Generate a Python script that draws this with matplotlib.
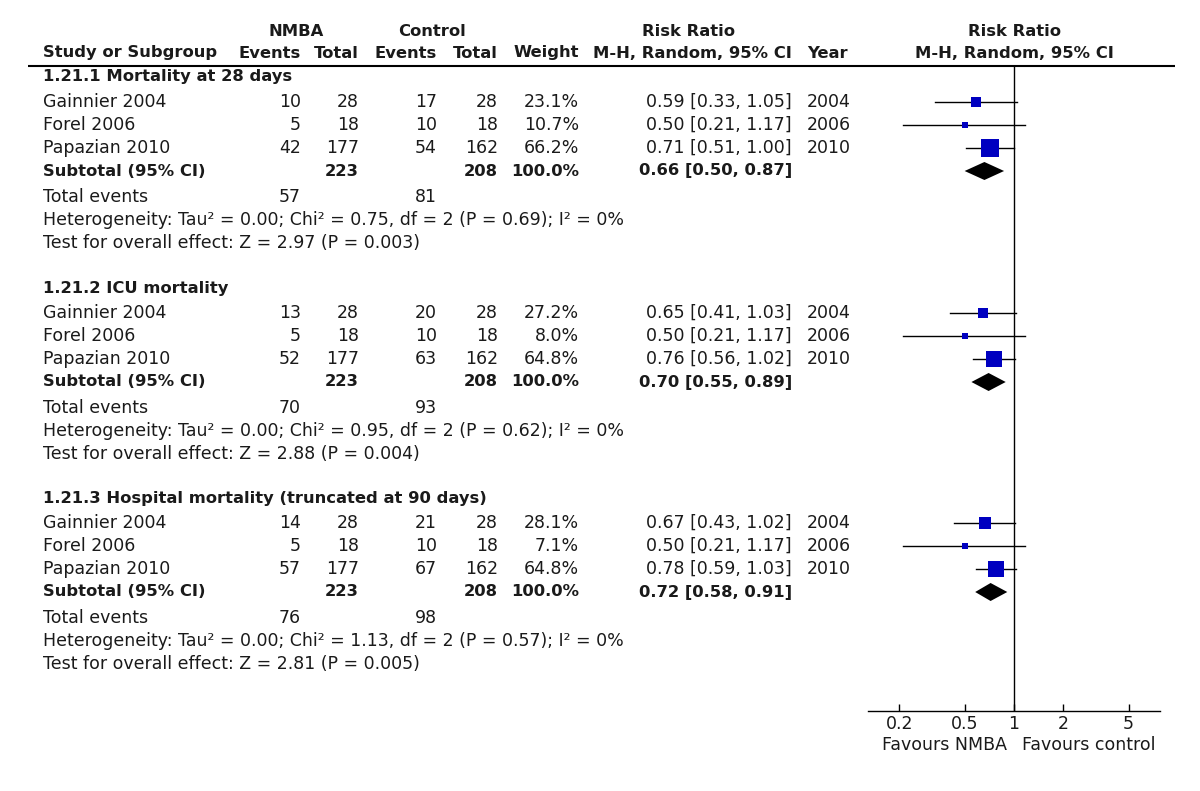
import numpy as np
import matplotlib.pyplot as plt
from matplotlib.patches import Polygon

# data
subgroups = ['1.21.1 Mortality at 28 days', '1.21.2 ICU mortality',
             '1.21.3 Hospital mortality (truncated at 90 days)']
studies = ['Gainnier 2004', 'Forel 2006', 'Papazian 2010']
years = [2004, 2006, 2010]

nmba_events = [[10, 5, 42], [13, 5, 52], [14, 5, 57]]
nmba_total = [[28, 18, 177], [28, 18, 177], [28, 18, 177]]
ctrl_events = [[17, 10, 54], [20, 10, 63], [21, 10, 67]]
ctrl_total = [[28, 18, 162], [28, 18, 162], [28, 18, 162]]
weights = [[23.1, 10.7, 66.2], [27.2, 8.0, 64.8], [28.1, 7.1, 64.8]]
rr = [[0.59, 0.50, 0.71], [0.65, 0.50, 0.76], [0.67, 0.50, 0.78]]
rr_lo = [[0.33, 0.21, 0.51], [0.41, 0.21, 0.56], [0.43, 0.21, 0.59]]
rr_hi = [[1.05, 1.17, 1.00], [1.03, 1.17, 1.02], [1.02, 1.17, 1.03]]

sub_rr = [0.66, 0.70, 0.72]
sub_lo = [0.50, 0.55, 0.58]
sub_hi = [0.87, 0.89, 0.91]
sub_nmba_total = [223, 223, 223]
sub_ctrl_total = [208, 208, 208]
sub_nmba_events = [57, 70, 76]
sub_ctrl_events = [81, 93, 98]
tau2 = [0.00, 0.00, 0.00]
chi2 = [0.75, 0.95, 1.13]
df = [2, 2, 2]
p_het = [0.69, 0.62, 0.57]
i2 = [0, 0, 0]
z = [2.97, 2.88, 2.81]
p_z = [0.003, 0.004, 0.005]

ticks = [0.2, 0.5, 1, 2, 5]
tick_labels = ['0.2', '0.5', '1', '2', '5']

# layout (pixels)
W, H = 1200, 791
FS = 12.5
FSB = 11.8
TXT = '#1a1a1a'
BLUE = '#0000c0'

fig = plt.figure(figsize=(W / 100, H / 100), dpi=100)
ax = fig.add_axes([0, 0, 1, 1])
ax.set_xlim(0, W)
ax.set_ylim(H, 0)
ax.axis('off')


def t(x, y, s, ha='left', bold=False):
    ax.text(x, y, s, ha=ha, va='center', fontsize=FSB if bold else FS,
            color=TXT, fontweight='bold' if bold else 'normal')


x_name = 43
x_ne, x_nt, x_ce, x_ct, x_w, x_ci, x_yr = 301, 359, 437, 498, 579, 792, 807

# header
t(296, 31, 'NMBA', 'center', True)
t(432, 31, 'Control', 'center', True)
t(688, 31, 'Risk Ratio', 'center', True)
t(1014, 31, 'Risk Ratio', 'center', True)
t(x_name, 53, 'Study or Subgroup', bold=True)
t(x_ne, 53, 'Events', 'right', True)
t(x_nt, 53, 'Total', 'right', True)
t(x_ce, 53, 'Events', 'right', True)
t(x_ct, 53, 'Total', 'right', True)
t(x_w, 53, 'Weight', 'right', True)
t(x_ci, 53, 'M-H, Random, 95% CI', 'right', True)
t(x_yr, 53, 'Year', bold=True)
t(1014, 53, 'M-H, Random, 95% CI', 'center', True)
ax.plot([28, 1175], [66, 66], color='black', lw=1.5, solid_capstyle='butt')

# forest axes
lo_px, hi_px = 868, 1160
top_px, bot_px = 67, 711
fax = fig.add_axes([lo_px / W, 1 - bot_px / H, (hi_px - lo_px) / W,
                    (bot_px - top_px) / H])
fax.set_xscale('log')
fax.set_xlim(10 ** ((lo_px - 1014) / 164.0), 10 ** ((hi_px - 1014) / 164.0))
fax.set_ylim(bot_px, top_px)
fax.patch.set_alpha(0)
for sp in ['top', 'left', 'right']:
    fax.spines[sp].set_visible(False)
fax.spines['bottom'].set_linewidth(1)
fax.set_yticks([])
fax.set_xticks(ticks)
fax.set_xticklabels(tick_labels)
fax.minorticks_off()
fax.tick_params(axis='x', direction='in', length=5, width=1, pad=3,
                labelsize=FS, labelcolor=TXT)
fax.axvline(1, color='black', lw=1)

sec_off = [77, 288, 498]
for g in range(3):
    y0 = sec_off[g]
    t(x_name, y0, subgroups[g], bold=True)
    for i in range(3):
        y = y0 + 25 + 23 * i
        t(x_name, y, studies[i])
        t(x_ne, y, str(nmba_events[g][i]), 'right')
        t(x_nt, y, str(nmba_total[g][i]), 'right')
        t(x_ce, y, str(ctrl_events[g][i]), 'right')
        t(x_ct, y, str(ctrl_total[g][i]), 'right')
        t(x_w, y, f'{weights[g][i]:.1f}%', 'right')
        t(x_ci, y, f'{rr[g][i]:.2f} [{rr_lo[g][i]:.2f}, {rr_hi[g][i]:.2f}]', 'right')
        t(x_yr, y, str(years[i]))
        fax.plot([rr_lo[g][i], rr_hi[g][i]], [y, y], color='black', lw=1)
        side = 2.1 * np.sqrt(weights[g][i]) * 0.72
        fax.plot(rr[g][i], y, marker='s', ms=side, color=BLUE, mec=BLUE,
                 mew=0)
    ys = y0 + 94
    t(x_name, ys, 'Subtotal (95% CI)', bold=True)
    t(x_nt, ys, str(sub_nmba_total[g]), 'right', True)
    t(x_ct, ys, str(sub_ctrl_total[g]), 'right', True)
    t(x_w, ys, '100.0%', 'right', True)
    t(x_ci, ys, f'{sub_rr[g]:.2f} [{sub_lo[g]:.2f}, {sub_hi[g]:.2f}]', 'right', True)
    fax.add_patch(Polygon([(sub_lo[g], ys), (sub_rr[g], ys - 9),
                           (sub_hi[g], ys), (sub_rr[g], ys + 9)],
                          closed=True, color='black', lw=0))
    t(x_name, y0 + 120, 'Total events')
    t(x_ne, y0 + 120, str(sub_nmba_events[g]), 'right')
    t(x_ce, y0 + 120, str(sub_ctrl_events[g]), 'right')
    t(x_name, y0 + 143,
      f'Heterogeneity: Tau\u00b2 = {tau2[g]:.2f}; Chi\u00b2 = {chi2[g]:.2f}, '
      f'df = {df[g]} (P = {p_het[g]:.2f}); I\u00b2 = {i2[g]}%')
    t(x_name, y0 + 166,
      f'Test for overall effect: Z = {z[g]:.2f} (P = {p_z[g]:.3f})')

t(1007, 745, 'Favours NMBA', 'right')
t(1022, 745, 'Favours control', 'left')

fig.savefig('out.png', dpi=100)
